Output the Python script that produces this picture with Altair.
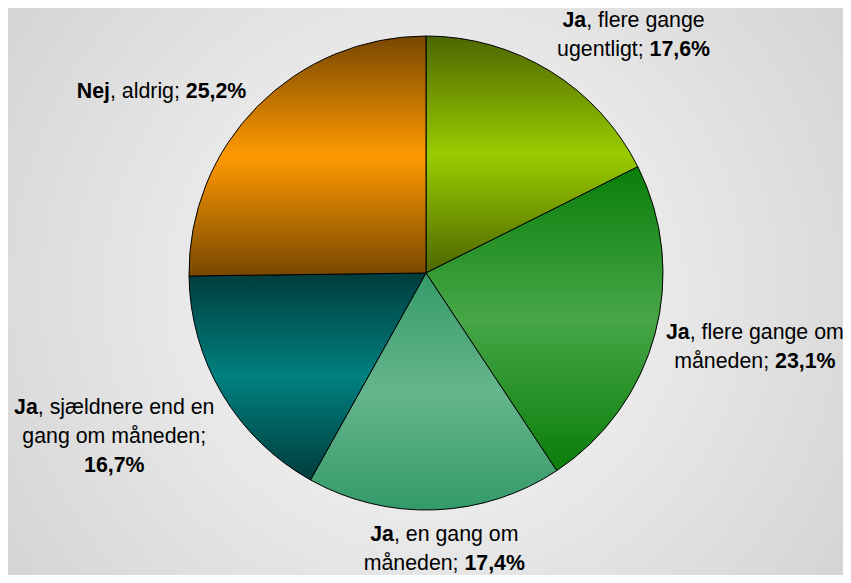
import altair as alt
import pandas as pd

# ---------------- data ----------------
categories = [
    "Ja, flere gange ugentligt",
    "Ja, flere gange om måneden",
    "Ja, en gang om måneden",
    "Ja, sjældnere end en gang om måneden",
    "Nej, aldrig",
]
values = [17.6, 23.1, 17.4, 16.7, 25.2]
order = [1, 2, 3, 4, 5]

# label lines: list of lines, each line a list of (text, bold); "{p}" = percentage
label_lines = [
    [[("Ja", True), (", flere gange", False)], [("ugentligt; ", False), ("{p}", True)]],
    [[("Ja", True), (", flere gange om", False)], [("måneden; ", False), ("{p}", True)]],
    [[("Ja", True), (", en gang om", False)], [("måneden; ", False), ("{p}", True)]],
    [[("Ja", True), (", sjældnere end en", False)], [("gang om måneden;", False)], [("{p}", True)]],
    [[("Nej", True), (", aldrig; ", False), ("{p}", True)]],
]

# ---------------- styles ----------------
dark_colors = ["#4d6600", "#0a7d0a", "#349a69", "#003c3c", "#774700"]
bright_colors = ["#99cc00", "#47a647", "#66b58c", "#008080", "#ff9900"]

W, H = 835, 567
CX, CY = 418, 265
R_PIE = 237
R_LABEL = 300
label_offsets = [(50, 18), (39, -3), (7, -23), (-54, 10), (-51, 30)]
FONT = 21.33
LINE_H = 29

REG = {" ": 278, ",": 278, ";": 278, "a": 556, "d": 556, "e": 556, "f": 278, "g": 556,
       "i": 222, "j": 222, "l": 222, "m": 833, "n": 556, "o": 556, "r": 333, "s": 500,
       "t": 278, "u": 556, "å": 556, "æ": 889, "J": 500, "N": 722, "%": 889}
BOLD = {" ": 278, ",": 278, ";": 333, "a": 556, "e": 556, "j": 278, "J": 556, "N": 722,
        "%": 889}


def text_width(s, bold):
    table = BOLD if bold else REG
    return sum(table.get(ch, 556) for ch in s) * FONT / 1000.0


df = pd.DataFrame({"category": categories, "value": values, "order": order})
total = float(sum(values))

base = alt.Chart(df).transform_window(
    end="sum(value)", sort=[alt.SortField("order")], frame=[None, 0]
).transform_calculate(
    start="datum.end - datum.value",
    mid="datum.end - datum.value / 2",
)

theta_scale = alt.Scale(domain=[0, total])

layers = []
for cat, dk, br in zip(categories, dark_colors, bright_colors):
    grad = {
        "gradient": "linear", "x1": 0, "y1": 0, "x2": 0, "y2": 1,
        "stops": [
            {"offset": 0, "color": dk},
            {"offset": 0.5, "color": br},
            {"offset": 1, "color": dk},
        ],
    }
    layers.append(
        base.transform_filter(alt.datum.category == cat)
        .mark_arc(radius=R_PIE, stroke="black", strokeWidth=1, fill=grad)
        .encode(
            theta=alt.Theta("start:Q", scale=theta_scale, stack=False),
            theta2="end:Q",
            x=alt.value(CX),
            y=alt.value(CY),
        )
    )

for cat, val, lines, (ox, oy) in zip(categories, values, label_lines, label_offsets):
    pct = f"{val:.1f}".replace(".", ",") + "%"
    n = len(lines)
    for i, line in enumerate(lines):
        segs = [(t.replace("{p}", pct), b) for t, b in line]
        wline = sum(text_width(t, b) for t, b in segs)
        x0 = -wline / 2.0
        dy = oy + (i - (n - 1) / 2.0) * LINE_H
        for t, b in segs:
            layers.append(
                base.transform_filter(alt.datum.category == cat)
                .mark_text(
                    align="left", baseline="middle", font="Liberation Sans",
                    fontSize=FONT, fontWeight="bold" if b else "normal",
                    color="black", dx=ox + x0, dy=dy,
                )
                .encode(
                    theta=alt.Theta("mid:Q", scale=theta_scale, stack=False),
                    radius=alt.value(R_LABEL),
                    x=alt.value(CX),
                    y=alt.value(CY),
                    text=alt.value(t),
                )
            )
            x0 += text_width(t, b)

bg_expr = ("{gradient: 'radial', x1: 0.5, y1: 0.5, r1: 0, x2: 0.5, y2: 0.5, r2: 0.72, "
           "stops: [{offset: 0, color: '#fbfbfb'}, {offset: 1, color: '#cdcdcd'}]}")

chart = alt.layer(*layers).properties(
    width=W, height=H, autosize=alt.AutoSizeParams(type="none"), padding=0
).configure_view(stroke=None, fill={"expr": bg_expr})

chart.save("out.html", embed_options={"renderer": "svg", "actions": False})
